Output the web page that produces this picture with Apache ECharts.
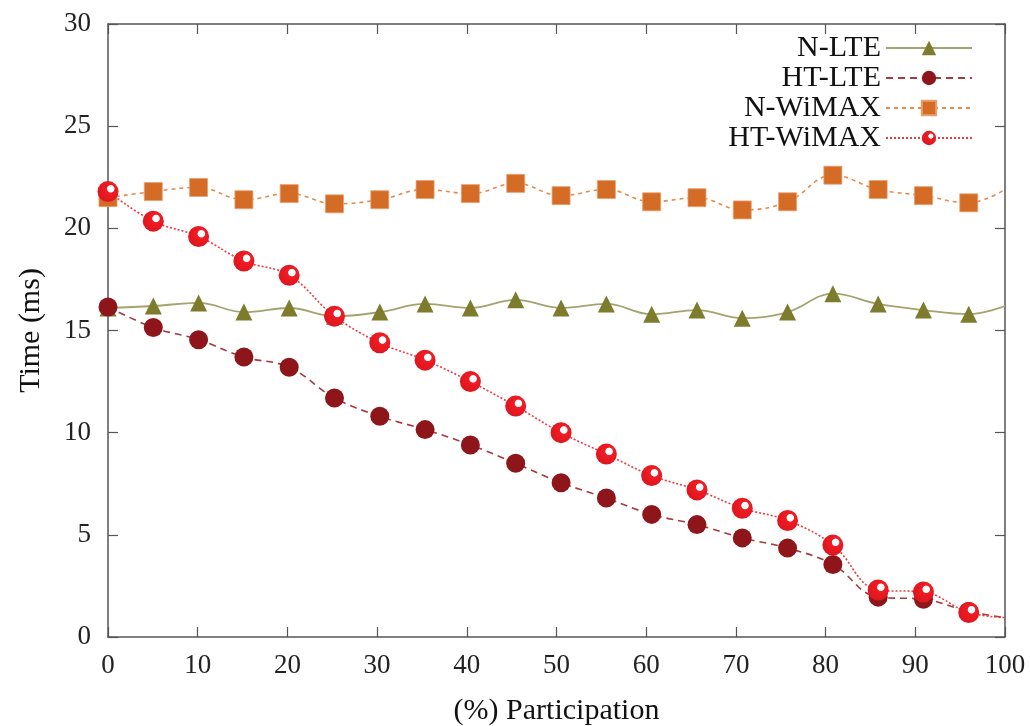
<!DOCTYPE html>
<html>
<head>
<meta charset="utf-8">
<script src="https://cdn.jsdelivr.net/npm/echarts@6/dist/echarts.min.js"></script>
<style>
  html, body { margin: 0; padding: 0; background: #fff; }
  #chart { width: 1030px; height: 726px; }
</style>
</head>
<body>
<div id="chart"></div>
<script>
// x positions (% participation); last point carries the line only
const participation = [0, 5.05, 10.1, 15.15, 20.2, 25.25, 30.3, 35.35, 40.4, 45.45,
  50.51, 55.56, 60.61, 65.66, 70.71, 75.76, 80.81, 85.86, 90.91, 95.96, 100];

const nLte = [16.1, 16.2, 16.35, 15.9, 16.1, 15.7, 15.9, 16.3, 16.1, 16.5,
  16.1, 16.3, 15.8, 16.0, 15.6, 15.9, 16.8, 16.3, 16.0, 15.8, 16.2];
const htLte = [16.15, 15.15, 14.55, 13.7, 13.2, 11.7, 10.8, 10.15, 9.4, 8.5,
  7.55, 6.8, 6.0, 5.5, 4.85, 4.35, 3.55, 1.95, 1.85, 1.25, 0.95];
const nWimax = [21.5, 21.8, 22.0, 21.4, 21.7, 21.2, 21.4, 21.9, 21.7, 22.2,
  21.6, 21.9, 21.3, 21.5, 20.9, 21.3, 22.6, 21.9, 21.6, 21.25, 21.9];
const htWimax = [21.8, 20.35, 19.6, 18.4, 17.7, 15.7, 14.4, 13.55, 12.5, 11.3,
  10.0, 8.95, 7.9, 7.2, 6.3, 5.7, 4.5, 2.3, 2.2, 1.2, 0.95];

const xTicks = { min: 0, max: 100, interval: 10 };
const yTicks = { min: 0, max: 30, interval: 5 };

const font = '"Liberation Serif", "DejaVu Serif", serif';
const axisColor = '#555';

function pairs(values) {
  return values.map((v, i) => {
    const item = { value: [participation[i], v] };
    if (i === values.length - 1) item.symbol = 'none';
    return item;
  });
}

// frame axis: line + inward ticks, optional labels
function frameAxis(extra) {
  return Object.assign({
    type: 'value',
    axisLine: { show: true, onZero: false, lineStyle: { color: axisColor, width: 1.5 } },
    axisTick: { show: true, inside: true, length: 10, lineStyle: { color: axisColor, width: 1.2 } },
    axisLabel: { show: false },
    splitLine: { show: false },
  }, extra);
}

const redBall = new echarts.graphic.RadialGradient(0.63, 0.37, 0.6, [
  { offset: 0, color: '#ffffff' },
  { offset: 0.26, color: '#ffffff' },
  { offset: 0.33, color: '#f01c24' },
  { offset: 1, color: '#e0161e' },
]);

const chart = echarts.init(document.getElementById('chart'));

chart.setOption({
  animation: false,
  textStyle: { fontFamily: font },
  grid: {
    left: 108, right: 25, top: 24, bottom: 89,
    containLabel: false,
    outerBoundsMode: 'none',
  },
  legend: {
    right: 52,
    top: 28,
    orient: 'vertical',
    align: 'right',
    itemWidth: 86,
    itemHeight: 18,
    itemGap: 0,
    textStyle: { fontFamily: font, fontSize: 30, lineHeight: 28, color: '#111' },
    data: ['N-LTE', 'HT-LTE', 'N-WiMAX', 'HT-WiMAX'],
  },
  xAxis: [
    frameAxis({
      ...xTicks,
      name: '(%) Participation',
      nameLocation: 'middle',
      nameGap: 59,
      nameTextStyle: { fontFamily: font, fontSize: 30, color: '#111' },
      axisLabel: { show: true, fontFamily: font, fontSize: 27, color: '#222', margin: 15 },
    }),
    frameAxis({ ...xTicks, position: 'top' }),
  ],
  yAxis: [
    frameAxis({
      ...yTicks,
      name: 'Time (ms)',
      nameLocation: 'middle',
      nameGap: 62,
      nameTextStyle: { fontFamily: font, fontSize: 30, color: '#111' },
      axisLabel: { show: true, fontFamily: font, fontSize: 27, color: '#222', margin: 17 },
    }),
    frameAxis({ ...yTicks, position: 'right' }),
  ],
  series: [
    {
      name: 'N-LTE',
      type: 'line',
      smooth: 0.4,
      data: pairs(nLte),
      symbol: 'triangle',
      symbolSize: 17,
      itemStyle: { color: '#7c7c2c' },
      lineStyle: { color: '#a3a36e', width: 1.8, type: 'solid' },
      z: 2,
    },
    {
      name: 'HT-LTE',
      type: 'line',
      smooth: 0.4,
      data: pairs(htLte),
      symbol: 'circle',
      symbolSize: 19,
      itemStyle: { color: '#8e161b' },
      lineStyle: { color: '#a63a3c', width: 1.6, type: [7, 5] },
      z: 3,
    },
    {
      name: 'N-WiMAX',
      type: 'line',
      smooth: 0.4,
      data: pairs(nWimax),
      symbol: 'rect',
      symbolSize: 18,
      itemStyle: { color: '#d46c26', borderColor: '#e8a070', borderWidth: 0.8 },
      lineStyle: { color: '#e58a4c', width: 1.6, type: [4, 4] },
      z: 2,
    },
    {
      name: 'HT-WiMAX',
      type: 'line',
      smooth: 0.4,
      data: pairs(htWimax),
      symbol: 'circle',
      symbolSize: 21,
      itemStyle: { color: redBall },
      lineStyle: { color: '#f0383e', width: 1.6, type: [2, 2] },
      z: 4,
    },
  ],
});
</script>
</body>
</html>
